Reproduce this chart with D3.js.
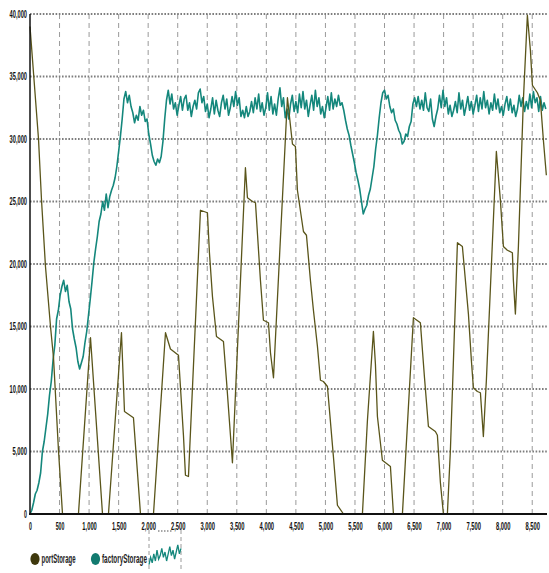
<!DOCTYPE html>
<html><head><meta charset="utf-8">
<script src="https://cdn.jsdelivr.net/npm/d3@7/dist/d3.min.js"></script>
<style>body{margin:0;background:#fff}svg{display:block}</style>
</head><body><svg id="c" width="549" height="573"></svg>
<script>
// ---- data ----
const seriesNames = ["portStorage", "factoryStorage"];
const xTickValues = [0,500,1000,1500,2000,2500,3000,3500,4000,4500,5000,5500,6000,6500,7000,7500,8000,8500];
const yTickValues = [0,5000,10000,15000,20000,25000,30000,35000,40000];

const portTime = [0,144,195,262,347,398,482,550,820,1024,1227,1328,1548,1599,1751,1870,2090,2293,2377,2513,2597,2631,2682,2885,3003,3037,3088,3156,3274,3325,3426,3646,3680,3765,3816,3900,3951,4036,4070,4121,4357,4442,4492,4526,4628,4679,4746,4797,4865,4916,4966,5034,5135,5203,5305,5626,5711,5812,5846,5880,5964,6100,6151,6303,6489,6607,6675,6743,6861,6895,6946,6997,7064,7115,7234,7318,7369,7420,7470,7504,7572,7623,7673,7724,7893,7961,8012,8079,8164,8181,8215,8266,8350,8418,8469,8503,8587,8638,8689,8739];
const portStorage = [39000,30000,25100,19800,15000,12500,5100,0,0,14100,0,0,14500,8200,7700,0,0,14500,13200,12700,6300,3100,3000,24300,24100,20900,17400,14200,13800,10700,4100,27700,25300,25000,24900,18700,15500,15300,12900,10900,33300,29600,29400,25900,22600,22300,18700,16300,13400,10700,10600,10200,4600,700,0,0,7500,14600,12000,7800,4300,3800,0,0,15700,15300,11000,7000,6600,6300,2500,0,0,5100,21700,21400,18700,16000,12300,10100,9800,9700,6200,10700,29000,25100,21400,21100,20900,18700,16000,21400,33100,39900,37100,34300,33700,33100,29900,27100];

const factoryStep = 30; // sampling interval of factoryStorage
const factoryStorage = [0,300,900,1600,1900,2500,3300,5000,5800,6900,8000,9500,10600,12300,13500,15600,16300,17500,18200,18700,17800,18300,17000,16400,14800,14000,13300,12200,11600,12100,12600,13700,14600,15900,17200,18600,20100,21200,22200,23400,24000,25000,24300,25600,24500,25400,25900,26300,26900,27800,29000,30200,31600,33200,33800,32900,33500,32600,32100,31300,31900,31500,32600,31900,32300,31400,31600,30400,29600,28700,28200,27900,28400,28100,28600,29800,31600,33100,33900,32800,33600,32400,32900,31900,32700,33400,32300,33200,33500,32300,32900,31800,32600,33100,32400,33700,34000,32900,33400,32200,32800,31700,32400,33300,32000,33100,32300,31800,32900,33500,32400,33200,31900,32500,33400,32600,33800,32700,33300,31800,32300,31700,32600,31800,32200,33000,32100,33300,32400,33600,32200,32900,31900,32500,33700,32300,33400,32000,32800,31900,33200,34100,32600,33300,31700,32400,31600,32800,33500,32200,33000,32100,33600,32500,33800,32400,33100,31800,32700,33500,32300,33900,32600,33300,32000,32600,31700,32500,33400,32300,33700,32400,33200,32600,33500,32700,32900,32300,31500,30800,30300,29500,28800,28100,27300,26700,26000,25000,24000,24400,24700,25500,26000,26900,27800,29200,30300,31700,32900,33700,33900,33200,33500,32600,32100,32400,31500,31200,30700,30400,29600,29800,30400,30200,31000,31400,32800,33300,32600,33400,32400,33100,32300,33700,32500,32200,33200,31600,31000,31800,32400,33500,32500,33900,32600,33300,32000,32700,31800,32300,33000,32100,33700,32400,33100,31900,32600,33400,32300,33000,32000,32700,33500,32200,33300,32400,33800,32500,33100,32000,32900,32300,33600,32400,33200,32100,32600,31900,32800,33400,32300,33200,32100,32700,31800,32400,33500,32600,33300,32200,33000,32400,33600,32500,33800,32900,33300,32200,33400,32300,32900,32400];

const legendSpark = [3,7,4,9,5,11,6,8,12,7,10,5,9,13,8,11,6,10,14,9,12];

// ---- layout ----
const colors = {port: "#5a551a", factory: "#14877c", portDot: "#3e380c", factoryDot: "#127a6f"};
const svg = d3.select("#c");
const x = d3.scaleLinear().domain([0, 8750]).range([30, 547]);
const y = d3.scaleLinear().domain([0, 40000]).range([514, 14]);
const fmt = d3.format(",");
const font = "'Liberation Sans','Arial',sans-serif";

// horizontally condense a text to a target width, keeping its anchor point
function squeeze(sel, widthFn) {
  sel.each(function() {
    const t = d3.select(this);
    const natural = this.getComputedTextLength();
    const w = widthFn(this.textContent);
    const k = natural > 0 ? w / natural : 1;
    const tx = +t.attr("x") || 0;
    t.attr("x", 0).attr("transform", `translate(${tx},0) scale(${k},1)`);
  });
}

// grid
svg.append("g").selectAll("line").data(xTickValues.filter(d => d > 0)).join("line")
  .attr("x1", d => x(d)).attr("x2", d => x(d)).attr("y1", y(40000)).attr("y2", y(0))
  .attr("stroke", "#9a9a9a").attr("stroke-width", 1).attr("stroke-dasharray", "5,4");
svg.append("g").selectAll("line").data(yTickValues.filter(d => d > 0)).join("line")
  .attr("x1", x(0)).attr("x2", 547).attr("y1", d => y(d)).attr("y2", d => y(d))
  .attr("stroke", "#7d7d7d").attr("stroke-width", 1.8).attr("stroke-dasharray", "1.6,1.6");

// lines
const factoryData = factoryStorage.map((v, i) => [i * factoryStep, v]);
const portData = portTime.map((t, i) => [t, portStorage[i]]);
const line = d3.line().x(d => x(d[0])).y(d => y(d[1]));
svg.append("path").datum(factoryData).attr("d", line).attr("fill", "none")
  .attr("stroke", colors.factory).attr("stroke-width", 1.6).attr("stroke-linejoin", "round");
svg.append("path").datum(portData).attr("d", line).attr("fill", "none")
  .attr("stroke", colors.port).attr("stroke-width", 1.3).attr("stroke-linejoin", "round");

// axes
const xAxis = svg.append("g").attr("transform", `translate(0,${y(0)})`)
  .call(d3.axisBottom(x).tickValues(xTickValues).tickFormat(fmt).tickSize(0).tickPadding(9));
xAxis.select(".domain").remove();
svg.append("line").attr("x1", x(0) - 1).attr("x2", 547).attr("y1", y(0)).attr("y2", y(0))
  .attr("stroke", "#111").attr("stroke-width", 2.2);
const yAxis = svg.append("g").attr("transform", `translate(${x(0)},0)`)
  .call(d3.axisLeft(y).tickValues(yTickValues).tickFormat(fmt).tickSize(0).tickPadding(3));
yAxis.select(".domain").remove();
svg.append("line").attr("x1", x(0)).attr("x2", x(0)).attr("y1", y(40000)).attr("y2", y(0))
  .attr("stroke", "#111").attr("stroke-width", 1.5);
const tickTexts = svg.selectAll(".tick text").attr("font-family", font).attr("font-size", 10.5)
  .attr("font-weight", "bold").attr("fill", "#111");
squeeze(tickTexts, s => s.length * 2.9);

// legend
const lg = svg.append("g");
lg.append("ellipse").attr("cx", 35).attr("cy", 559).attr("rx", 4.6).attr("ry", 6).attr("fill", colors.portDot);
const l1 = lg.append("text").attr("x", 41.5).attr("y", 563.5).text(seriesNames[0])
  .attr("font-family", font).attr("font-size", 12.5).attr("font-weight", "bold").attr("fill", "#222");
squeeze(l1, () => 34);
lg.append("ellipse").attr("cx", 95.5).attr("cy", 559).attr("rx", 4.6).attr("ry", 6).attr("fill", colors.factoryDot);
const l2 = lg.append("text").attr("x", 102).attr("y", 563.5).text(seriesNames[1])
  .attr("font-family", font).attr("font-size", 12.5).attr("font-weight", "bold").attr("fill", "#222");
squeeze(l2, () => 45);
// small sparkline artifact
[149, 181].forEach(px => lg.append("line").attr("x1", px).attr("x2", px).attr("y1", 530).attr("y2", 572)
  .attr("stroke", "#9a9a9a").attr("stroke-dasharray", "4,3"));
lg.append("line").attr("x1", 158).attr("x2", 172).attr("y1", 531).attr("y2", 531)
  .attr("stroke", "#8a8a8a").attr("stroke-width", 1.5).attr("stroke-dasharray", "1.5,1.5");
const sx = d3.scaleLinear().domain([0, legendSpark.length - 1]).range([149, 181]);
const sy = d3.scaleLinear().domain([0, 15]).range([570, 543]);
lg.append("path").datum(legendSpark).attr("fill", "none").attr("stroke", colors.factory).attr("stroke-width", 1.3)
  .attr("d", d3.line().x((d, i) => sx(i)).y(d => sy(d)));
</script></body></html>
